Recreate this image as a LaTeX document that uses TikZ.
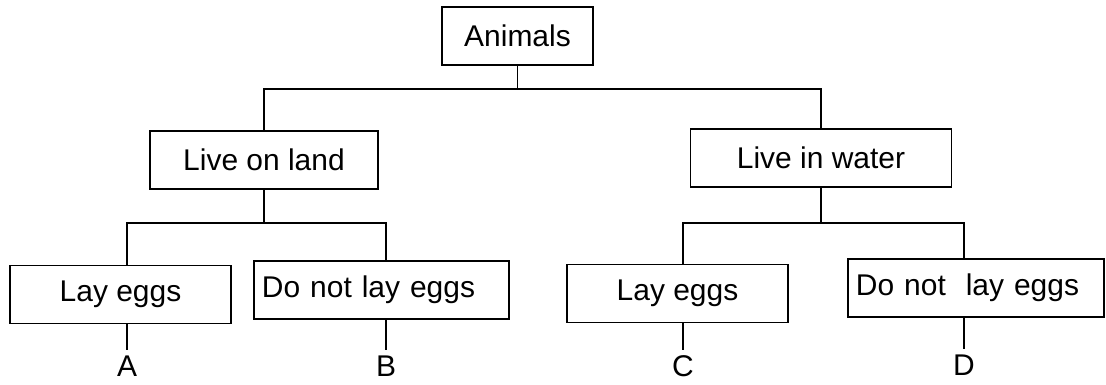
\documentclass[tikz,border=0pt]{standalone}
\usepackage{fontspec}
\setmainfont{Liberation Sans}
\tikzset{
  box/.style={draw, line width=1.1pt, minimum height=1.45cm, inner sep=0pt},
  wide/.style={box, align=left, inner xsep=0.2cm, text width=#1},
  tag/.style={inner sep=0.12cm},
}
\begin{document}
\begin{tikzpicture}[x=0.025cm, y=-0.025cm, line width=1.1pt, font=\fontsize{21.3}{25}\selectfont]
    \useasboundingbox (0,0) rectangle (1106,384);
    % boxes
    \node[box, minimum width=3.775cm] (animals) at (517.5,36) {Animals};
    \node[box, minimum width=5.7cm] (land) at (264,160) {Live on land};
    \node[box, minimum width=6.525cm] (water) at (821,158) {Live in water};
    \node[box, minimum width=5.525cm] (layA) at (120.5,294.5) {Lay eggs};
    \node[wide=5.975cm] (notB) at (381.5,290) {Do not lay eggs};
    \node[box, minimum width=5.525cm] (layC) at (677.5,293.5) {Lay eggs};
    \node[wide=6.0cm] (notD) at (976,288) {Do not\ \ lay eggs};
    % letters
    \node[tag] (A) at (127,366) {A};
    \node[tag] (B) at (386,366) {B};
    \node[tag] (C) at (683,366) {C};
    \node[tag] (D) at (964,365) {D};
    % forks
    \coordinate (jtop) at (517.5,89);
    \coordinate (jland) at (264,223);
    \coordinate (jwater) at (821,223);
    \draw (animals) -- (jtop);
    \draw (land.north) |- (jtop) -| (water.north);
    \draw (land) -- (jland);
    \draw (A |- layA.north) |- (jland) -| (B |- notB.north);
    \draw (water) -- (jwater);
    \draw (C |- layC.north) |- (jwater) -| (D |- notD.north);
    \draw (A |- layA.south) -- (A);
    \draw (B |- notB.south) -- (B);
    \draw (C |- layC.south) -- (C);
    \draw (D |- notD.south) -- (D);
\end{tikzpicture}
\end{document}
